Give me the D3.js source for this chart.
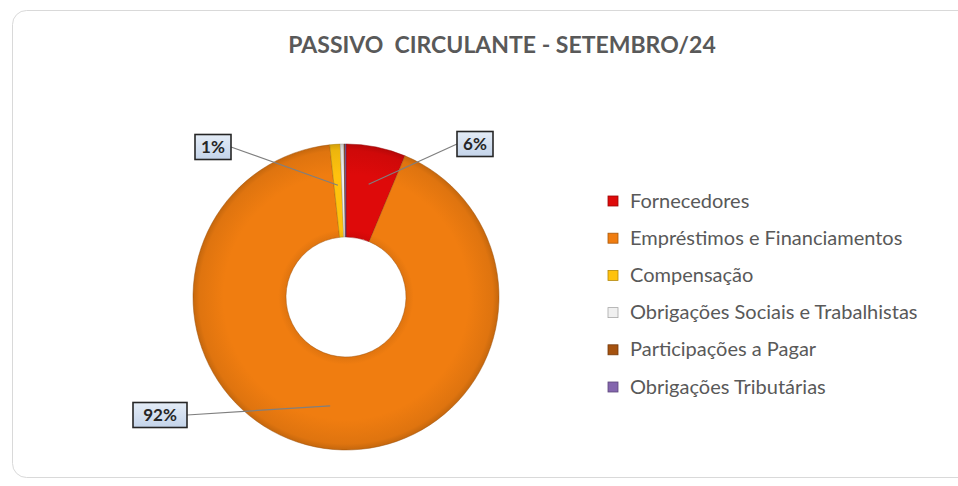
<!DOCTYPE html>
<html><head><meta charset="utf-8">
<script src="https://cdn.jsdelivr.net/npm/d3@7"></script>
<style>
html,body{margin:0;padding:0;background:#fff;}
svg{display:block;}
</style></head>
<body>
<svg id="c" width="958" height="486"></svg>
<script>
const categories = ["Fornecedores","Empréstimos e Financiamentos","Compensação","Obrigações Sociais e Trabalhistas","Participações a Pagar","Obrigações Tributárias"];
const values = [6.3, 92.0, 1.1, 0.4, 0.1, 0.1];
const colors = ["#DE0A0A","#F07D10","#FFC20E","#F0F0F0","#A5520F","#8466AE"];
const labelTexts = ["6%","92%","1%","","",""];

const svg = d3.select("#c");
const defs = svg.append("defs");
const font = "Lato, 'Open Sans', sans-serif";

// card background
svg.append("rect").attr("x",12.5).attr("y",10.5).attr("width",960).attr("height",467)
  .attr("rx",14).attr("fill","#fff").attr("stroke","#D9D9D9").attr("stroke-width",1);

svg.append("text").attr("x",502).attr("y",53).attr("text-anchor","middle")
  .attr("font-family",font).attr("font-weight","bold")
  .attr("font-size",23).attr("fill","#595959").attr("xml:space","preserve")
  .text("PASSIVO  CIRCULANTE - SETEMBRO/24");

const cx = 346, cy = 297, R = 153, r0 = 60;
const pie = d3.pie().sort(null).value(d=>d)(values);
const arc = d3.arc().innerRadius(r0).outerRadius(R);

const g = svg.append("g").attr("transform",`translate(${cx},${cy})`);

colors.forEach((c,i)=>{
  const gr = defs.append("radialGradient").attr("id","g"+i)
    .attr("gradientUnits","userSpaceOnUse").attr("cx",0).attr("cy",0).attr("r",R);
  const base = d3.color(c);
  gr.append("stop").attr("offset", r0/R).attr("stop-color", base.darker(0.2));
  gr.append("stop").attr("offset", r0/R+0.05).attr("stop-color", base);
  gr.append("stop").attr("offset", 0.8).attr("stop-color", base);
  gr.append("stop").attr("offset", 0.96).attr("stop-color", base.darker(0.2));
  gr.append("stop").attr("offset", 1).attr("stop-color", base.darker(0.55));
});

g.selectAll("path.s").data(pie).join("path").attr("class","s")
  .attr("d",arc).attr("fill",(d,i)=>`url(#g${i})`)
  .attr("stroke",(d,i)=>d3.color(colors[i]).darker(1.2)).attr("stroke-opacity",0.6).attr("stroke-width",0.8);

// data labels with leader lines
const labelPos = {0:{x:475,y:144,w:36}, 1:{x:160,y:415,w:54}, 2:{x:213,y:147,w:36}};
const anchorR = {0:115, 1:110, 2:112};
pie.forEach((d,i)=>{
  if(!labelTexts[i]) return;
  const p = labelPos[i];
  const a = (d.startAngle+d.endAngle)/2;
  const ax = cx + anchorR[i]*Math.sin(a), ay = cy - anchorR[i]*Math.cos(a);
  const bx = (ax < p.x) ? p.x - p.w/2 : p.x + p.w/2;
  svg.append("line").attr("x1",bx).attr("y1",p.y).attr("x2",ax).attr("y2",ay)
    .attr("stroke","#7F7F7F").attr("stroke-width",1.2);
});
const lg = defs.append("linearGradient").attr("id","lab").attr("x1",0).attr("y1",0).attr("x2",0).attr("y2",1);
lg.append("stop").attr("offset",0).attr("stop-color","#E4ECF6");
lg.append("stop").attr("offset",1).attr("stop-color","#C4D4EA");
pie.forEach((d,i)=>{
  if(!labelTexts[i]) return;
  const p = labelPos[i];
  svg.append("rect").attr("x",p.x-p.w/2).attr("y",p.y-12.5).attr("width",p.w).attr("height",25)
    .attr("fill","url(#lab)").attr("stroke","#262626").attr("stroke-width",1.6);
  svg.append("text").attr("x",p.x).attr("y",p.y+6).attr("text-anchor","middle")
    .attr("font-family",font).attr("font-weight","bold").attr("font-size",17)
    .attr("fill","#262626").text(labelTexts[i]);
});

// legend
const leg = svg.append("g");
categories.forEach((c,i)=>{
  const y = 201 + i*37.2;
  leg.append("rect").attr("x",608).attr("y",y-5).attr("width",10).attr("height",10)
    .attr("fill",colors[i]).attr("stroke",d3.color(colors[i]).darker(1)).attr("stroke-width",0.8);
  leg.append("text").attr("x",630).attr("y",y+6.5).attr("font-family",font)
    .attr("font-size",20).attr("fill","#595959").text(c);
});
</script>
</body></html>
